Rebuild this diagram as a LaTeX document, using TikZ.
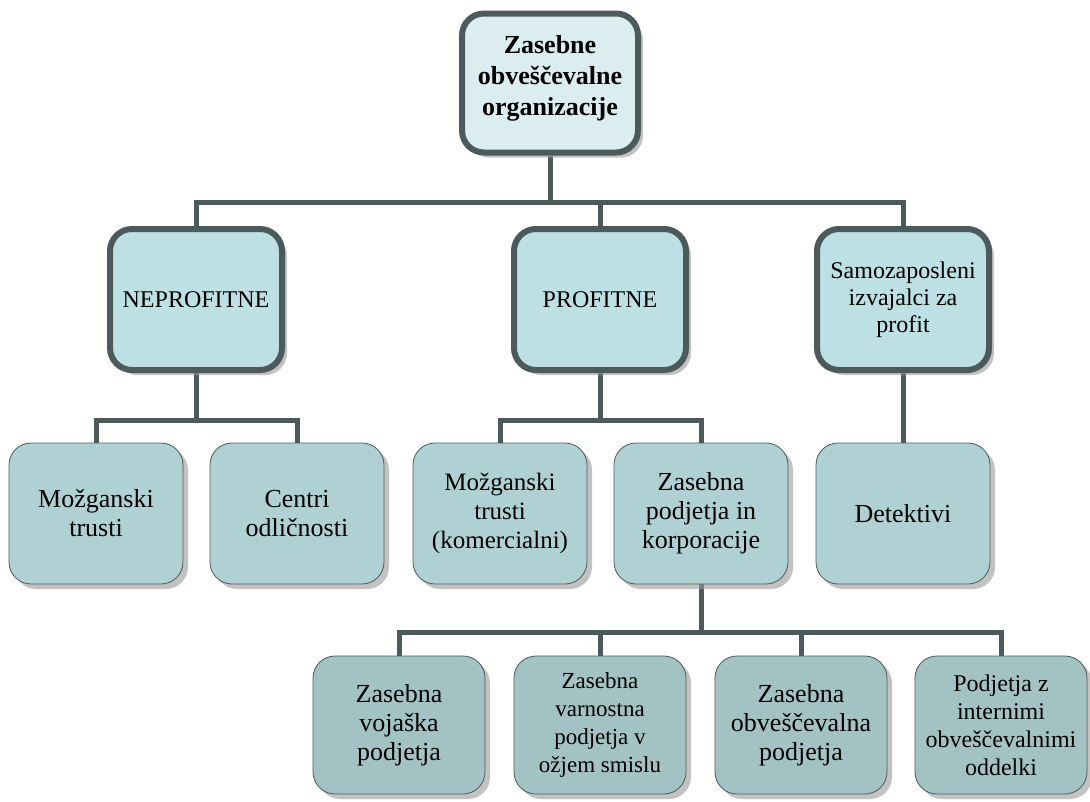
\documentclass[tikz,border=0pt]{standalone}
\usepackage{fontspec}
\setmainfont{Liberation Serif}
\usetikzlibrary{shadows,backgrounds}
\definecolor{edgec}{RGB}{77,90,92}
\definecolor{topfill}{RGB}{219,237,240}
\definecolor{midfill}{RGB}{188,224,228}
\definecolor{lowfill}{RGB}{176,209,211}
\definecolor{botfill}{RGB}{163,194,196}
\begin{document}
\begin{tikzpicture}[x=1pt,y=-1pt,
  base/.style={rectangle, rounded corners=22pt, align=center, inner sep=0pt, text=black,
    drop shadow={shadow xshift=5pt, shadow yshift=-5pt, fill=black!40, opacity=0.6}},
  topbox/.style={base, draw=edgec, line width=6pt, fill=topfill, minimum width=176pt,
    minimum height=139pt, font=\bfseries\fontsize{26}{31}\selectfont},
  midbox/.style={base, draw=edgec, line width=6pt, fill=midfill, minimum width=172pt,
    minimum height=141pt, font=\fontsize{24}{27}\selectfont},
  lowbox/.style={base, draw=edgec, line width=0.8pt, fill=lowfill, minimum width=174pt,
    minimum height=141pt, font=\fontsize{26}{29}\selectfont},
  botbox/.style={lowbox, fill=botfill, minimum width=172pt, minimum height=138pt},
  small/.style={font=\fontsize{24}{28}\selectfont},
  conn/.style={draw=edgec, line width=5pt, line join=miter}]
\useasboundingbox (0,0) rectangle (1090,801);

\node[topbox, text depth=16pt] (top) at (550,83) {Zasebne\\obveščevalne\\organizacije};

\node[midbox] (nep) at (196,299.5) {NEPROFITNE};
\node[midbox] (prof) at (600,299.5) {PROFITNE};
\node[midbox] (samo) at (903,299.5) {Samozaposleni\\izvajalci za\\profit};

\node[lowbox] (m1) at (96,513.5) {Možganski\\trusti};
\node[lowbox] (c1) at (297,513.5) {Centri\\odličnosti};
\node[lowbox, font=\fontsize{25}{29}\selectfont] (m2) at (500,513.5) {Možganski\\trusti\\(komercialni)};
\node[lowbox] (zp) at (701,513.5) {Zasebna\\podjetja in\\korporacije};
\node[lowbox] (det) at (903,513.5) {Detektivi};

\node[botbox] (b1) at (399,725) {Zasebna\\vojaška\\podjetja};
\node[botbox, font=\fontsize{23}{28}\selectfont] (b2) at (600,725) {Zasebna\\varnostna\\podjetja v\\ožjem smislu};
\node[botbox] (b3) at (801,725) {Zasebna\\obveščevalna\\podjetja};
\node[botbox, small] (b4) at (1001,725) {Podjetja z\\internimi\\obveščevalnimi\\oddelki};

\begin{pgfonlayer}{background}
\draw[conn] (top.south) -- (top.south |- 0,202);
\draw[conn] (nep.north) -- (nep.north |- 0,202) -- (samo.north |- 0,202) -- (samo.north);
\draw[conn] (prof.north) -- (prof.north |- 0,202);

\draw[conn] (nep.south) -- (nep.south |- 0,420);
\draw[conn] (m1.north) -- (m1.north |- 0,420) -- (c1.north |- 0,420) -- (c1.north);

\draw[conn] (prof.south) -- (prof.south |- 0,420);
\draw[conn] (m2.north) -- (m2.north |- 0,420) -- (zp.north |- 0,420) -- (zp.north);

\draw[conn] (samo.south) -- (det.north);

\draw[conn] (zp.south) -- (zp.south |- 0,632);
\draw[conn] (b1.north) -- (b1.north |- 0,632) -- (b4.north |- 0,632) -- (b4.north);
\draw[conn] (b2.north) -- (b2.north |- 0,632);
\draw[conn] (b3.north) -- (b3.north |- 0,632);
\end{pgfonlayer}
\end{tikzpicture}
\end{document}
